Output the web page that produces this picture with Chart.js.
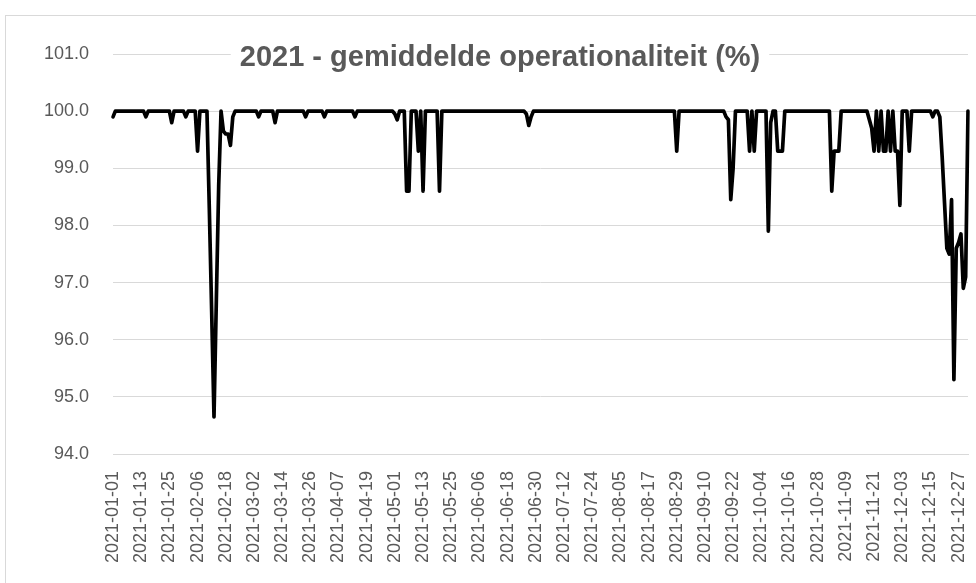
<!DOCTYPE html>
<html>
<head>
<meta charset="utf-8">
<script src="https://cdn.jsdelivr.net/npm/chart.js@4.4.0/dist/chart.umd.min.js"></script>
<style>
  html, body { margin: 0; padding: 0; background: #fff; }
  #wrap { width: 976px; height: 583px; }
</style>
</head>
<body>
<div id="wrap"><canvas id="chart" width="976" height="583"></canvas></div>
<script>
const chartTitle = '2021 - gemiddelde operationaliteit (%)';
const year = 2021;
const yMin = 94;
const yMax = 101;
const labelEvery = 12; // one date label every 12 days

// daily operationality (%) per month
const jan = [99.9,100,100,100,100,100,100,100,100,100, 100,100,100,100,99.9,100,100,100,100,100,
             100,100,100,100,100,99.8,100,100,100,100, 100];
const feb = [99.9,100,100,100,100,99.3,100,100,100,100, 98.3,96.5,94.65,96.7,98.7,100,99.65,99.6,99.6,99.4,
             99.9,100,100,100,100,100,100,100];
const mar = [100,100,100,99.9,100,100,100,100,100,100, 99.8,100,100,100,100,100,100,100,100,100,
             100,100,100,99.9,100,100,100,100,100,100, 100];
const apr = [99.9,100,100,100,100,100,100,100,100,100, 100,100,100,99.9,100,100,100,100,100,100,
             100,100,100,100,100,100,100,100,100,100];
const may = [99.95,99.85,100,100,100,98.6,98.6,100,100,100, 99.3,100,98.6,100,100,100,100,100,100,98.6,
             100,100,100,100,100,100,100,100,100,100, 100];
const jun = [100,100,100,100,100,100,100,100,100,100, 100,100,100,100,100,100,100,100,100,100,
             100,100,100,100,100,99.95,99.75,99.9,100,100];
const jul = [100,100,100,100,100,100,100,100,100,100, 100,100,100,100,100,100,100,100,100,100,
             100,100,100,100,100,100,100,100,100,100, 100];
const aug = [100,100,100,100,100,100,100,100,100,100, 100,100,100,100,100,100,100,100,100,100,
             100,100,100,100,100,100,100,100,99.3,100, 100];
const sep = [100,100,100,100,100,100,100,100,100,100, 100,100,100,100,100,100,100,100,99.9,99.85,
             98.45,99.0,100,100,100,100,100,100,99.3,100];
const oct = [99.3,100,100,100,100,100,97.9,99.8,100,100, 99.3,99.3,99.3,100,100,100,100,100,100,100,
             100,100,100,100,100,100,100,100,100,100, 100];
const nov = [100,100,98.6,99.3,99.3,99.3,100,100,100,100, 100,100,100,100,100,100,100,100,99.85,99.7,
             99.3,100,99.3,100,99.3,99.3,100,99.3,100,99.3];
const dec = [99.3,98.35,100,100,100,99.3,100,100,100,100, 100,100,100,100,100,99.9,100,100,99.9,99.2,
             98.4,97.6,97.5,98.45,95.3,97.6,97.7,97.85,96.9,97.1, 100];

const months = [jan, feb, mar, apr, may, jun, jul, aug, sep, oct, nov, dec];
const values = months.flat();

// one category per day: 2021-01-01 ... 2021-12-31
const dates = [];
months.forEach((m, mi) => {
    m.forEach((_, di) => {
        dates.push(`${year}-${String(mi + 1).padStart(2, '0')}-${String(di + 1).padStart(2, '0')}`);
    });
});

const textColor = '#595959';
const gridColor = '#d9d9d9';
const tickFont = { family: '"Liberation Sans", Arial, sans-serif', size: 18 };

// light frame around the chart, like the Excel chart area border
const frame = {
    id: 'frame',
    beforeDraw(chart) {
        const c = chart.ctx;
        c.save();
        c.strokeStyle = gridColor;
        c.lineWidth = 1;
        c.strokeRect(5.5, 15.5, 1200, 1200);
        c.restore();
    }
};

// title sits on top of the plot, over the 101.0 gridline
const titleOverlay = {
    id: 'titleOverlay',
    afterDraw(chart) {
        const c = chart.ctx;
        c.save();
        c.font = 'bold 29px "Liberation Sans", Arial, sans-serif';
        const w = c.measureText(chartTitle).width;
        const cx = 500, cy = 58;
        c.fillStyle = '#fff';
        c.fillRect(cx - w / 2 - 9, cy - 18, w + 18, 36);
        c.fillStyle = textColor;
        c.textAlign = 'center';
        c.textBaseline = 'middle';
        c.fillText(chartTitle, cx, cy);
        c.restore();
    }
};

const ctx = document.getElementById('chart').getContext('2d');
new Chart(ctx, {
    type: 'line',
    data: {
        labels: dates,
        datasets: [{
            data: values,
            borderColor: '#000000',
            borderWidth: 3.7,
            pointRadius: 0,
            tension: 0,
            fill: false,
            borderJoinStyle: 'round',
            borderCapStyle: 'round'
        }]
    },
    options: {
        responsive: false,
        animation: false,
        layout: { padding: { top: 54, right: 8, left: 0, bottom: 0 } },
        plugins: {
            legend: { display: false },
            tooltip: { enabled: false },
            title: { display: false }
        },
        scales: {
            x: {
                offset: false,
                grid: { display: false, drawTicks: false },
                border: { color: gridColor },
                ticks: {
                    autoSkip: false,
                    maxRotation: 90,
                    minRotation: 90,
                    padding: 17,
                    color: textColor,
                    font: tickFont,
                    callback: (v, i) => (i % labelEvery === 0 ? dates[i] : null)
                },
                afterFit: (scale) => {
                    scale.height = 129;
                    scale.paddingLeft = 0;
                    scale.paddingRight = 0;
                }
            },
            y: {
                min: yMin,
                max: yMax,
                grid: { color: gridColor, drawTicks: false },
                border: { display: false },
                ticks: {
                    stepSize: 1,
                    padding: 24,
                    color: textColor,
                    font: tickFont,
                    callback: (v) => v.toFixed(1)
                },
                afterFit: (scale) => {
                    scale.width = 113;
                    scale.paddingTop = 0;
                    scale.paddingBottom = 0;
                }
            }
        }
    },
    plugins: [frame, titleOverlay]
});
</script>
</body>
</html>
